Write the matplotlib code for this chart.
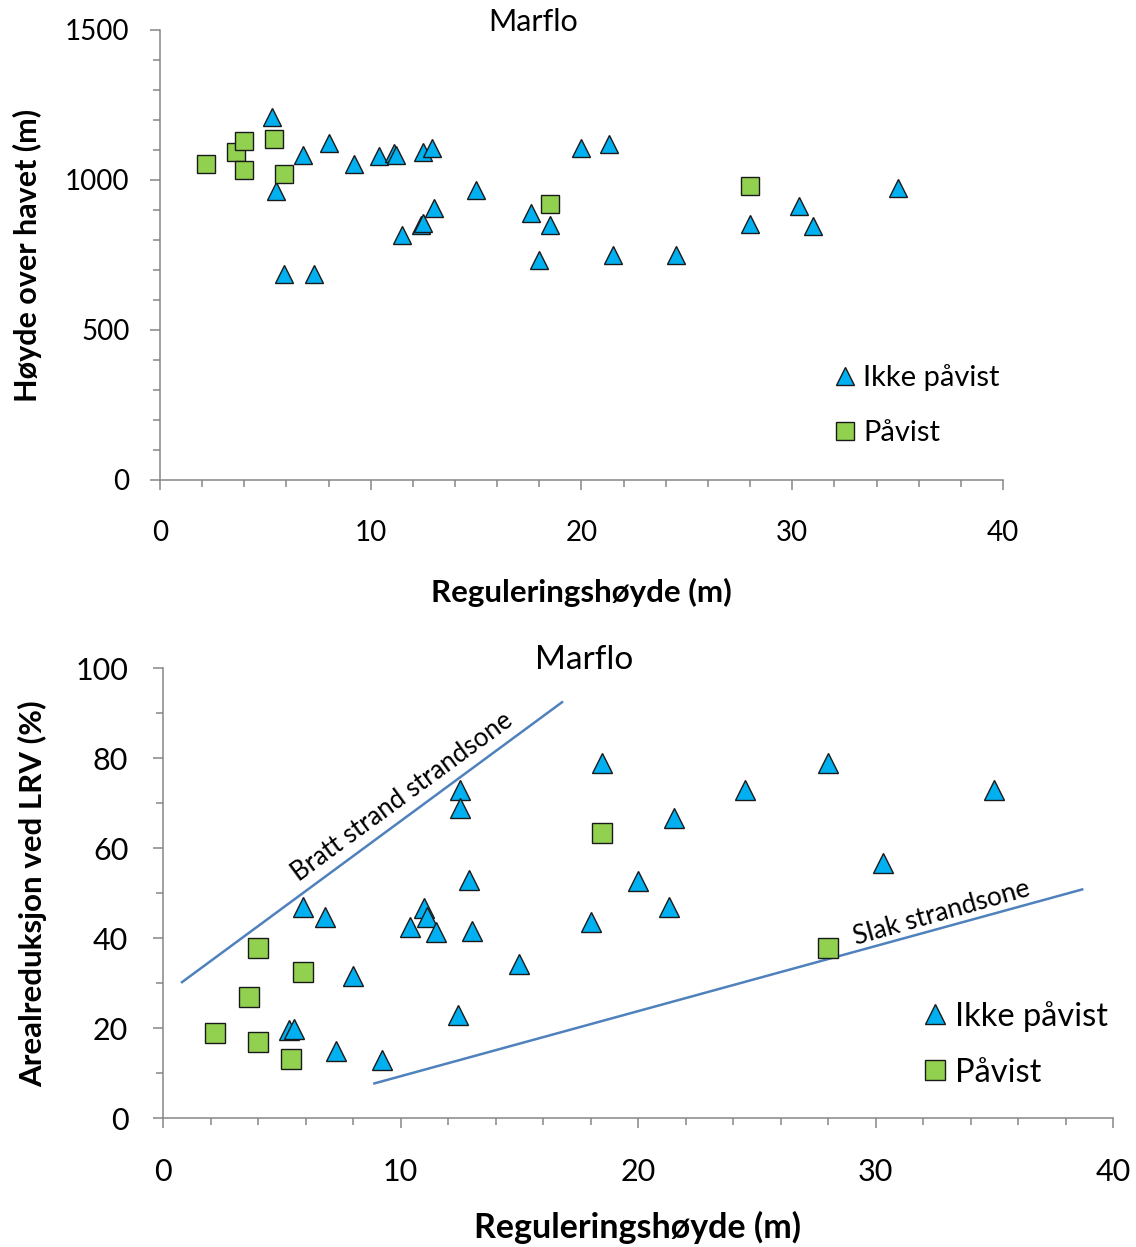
import matplotlib.pyplot as plt
from matplotlib.ticker import MultipleLocator

plt.rcParams['font.family'] = ['Lato', 'DejaVu Sans']

# Øvre figur: høyde over havet mot reguleringshøyde
ikke_x_hoh = [5.3, 6.8, 8.0, 9.2, 10.4, 11.1, 11.2, 12.5, 12.9, 5.5, 15.0, 13.0, 12.4, 12.5,
              11.5, 17.6, 18.5, 18.0, 5.9, 7.3, 20.0, 21.3, 21.5, 24.5, 28.0, 30.3, 31.0, 35.0]
ikke_y_hoh = [1209, 1083, 1122, 1053, 1080, 1089, 1083, 1094, 1106, 964, 967, 906, 851, 855,
              817, 890, 850, 733, 687, 687, 1106, 1120, 750, 750, 853, 914, 847, 972]
pav_x_hoh = [2.2, 3.6, 4.0, 4.0, 5.4, 5.9, 18.5, 28.0]
pav_y_hoh = [1053, 1093, 1131, 1033, 1136, 1021, 919, 980]

# Nedre figur: arealreduksjon ved LRV
ikke_x_areal = [12.5, 12.5, 12.9, 5.9, 6.8, 11.0, 11.1, 10.4, 11.5, 13.0, 18.0, 8.0, 15.0,
                12.4, 5.3, 5.5, 7.3, 9.2, 18.5, 28.0, 24.5, 35.0, 21.5, 30.3, 20.0, 21.3]
ikke_y_areal = [72.9, 68.8, 52.8, 46.8, 44.7, 46.6, 44.7, 42.5, 41.4, 41.6, 43.6, 31.6, 34.3,
                23.0, 19.6, 19.9, 15.0, 12.9, 79.0, 79.0, 72.9, 73.0, 66.7, 56.6, 52.7, 47.0]
pav_x_areal = [2.2, 4.0, 5.9, 3.6, 4.0, 5.4, 18.5, 28.0]
pav_y_areal = [18.8, 37.8, 32.5, 27.0, 17.0, 13.1, 63.4, 37.7]

# hjelpelinjer
bratt_x = [0.8, 16.8]
bratt_y = [30.2, 92.4]
slak_x = [8.9, 38.7]
slak_y = [7.7, 50.8]

blaa = '#00B0F0'
gronn = '#92D050'
linjefarge = '#4F81BD'
akse = '#868686'

fig = plt.figure(figsize=(11.36, 12.47), dpi=100)
ax1 = fig.add_axes([0.1408, 0.6151, 0.7421, 0.3609])
ax2 = fig.add_axes([0.1435, 0.1034, 0.8363, 0.3609])


def stil(ax, ymax, ymaj, ymin, fs, ypad):
    ax.set_xlim(0, 40)
    ax.set_ylim(0, ymax)
    ax.xaxis.set_major_locator(MultipleLocator(10))
    ax.xaxis.set_minor_locator(MultipleLocator(2))
    ax.yaxis.set_major_locator(MultipleLocator(ymaj))
    ax.yaxis.set_minor_locator(MultipleLocator(ymin))
    for s in ['top', 'right']:
        ax.spines[s].set_visible(False)
    for s in ['left', 'bottom']:
        ax.spines[s].set_color(akse)
        ax.spines[s].set_linewidth(1.1)
    ax.tick_params(which='major', direction='out', length=7, width=1.1, color=akse, labelsize=fs)
    ax.tick_params(which='minor', direction='out', length=5, width=1.1, color=akse)
    ax.tick_params(axis='y', which='major', pad=ypad)
    ax.tick_params(axis='x', which='major', pad=22)


# øvre
ax1.plot(ikke_x_hoh, ikke_y_hoh, linestyle='none', marker='^', ms=13.5, mfc=blaa,
         mec='#1a1a1a', mew=1.0, label='Ikke påvist', zorder=3)
ax1.plot(pav_x_hoh, pav_y_hoh, linestyle='none', marker='s', ms=13.5, mfc=gronn,
         mec='#1a1a1a', mew=1.0, label='Påvist', zorder=4)
stil(ax1, 1500, 500, 100, 20, 15)
ax1.text(0.4425, 1.018, 'Marflo', transform=ax1.transAxes, ha='center', va='center', fontsize=22)
ax1.set_xlabel('Reguleringshøyde (m)', fontsize=22.5, fontweight='bold', va='center')
ax1.xaxis.set_label_coords(0.4994, -0.249)
ax1.set_ylabel('Høyde over havet (m)', fontsize=22, fontweight='bold', va='center')
ax1.yaxis.set_label_coords(-0.1566, 0.5)
ax1.legend(loc='upper left', bbox_to_anchor=(0.7995, 0.257), frameon=False, fontsize=21,
           handlelength=0.75, handletextpad=0.25, labelspacing=1.0, borderpad=0, borderaxespad=0)

# nedre
ax2.plot(bratt_x, bratt_y, color=linjefarge, lw=1.8, zorder=2)
ax2.plot(slak_x, slak_y, color=linjefarge, lw=1.8, zorder=2)
ax2.plot(ikke_x_areal, ikke_y_areal, linestyle='none', marker='^', ms=14.5, mfc=blaa,
         mec='#1a1a1a', mew=1.0, label='Ikke påvist', zorder=3)
ax2.plot(pav_x_areal, pav_y_areal, linestyle='none', marker='s', ms=14, mfc=gronn,
         mec='#1a1a1a', mew=1.0, label='Påvist', zorder=4)
stil(ax2, 100, 20, 10, 22, 18)
ax2.text(0.443, 1.018, 'Marflo', transform=ax2.transAxes, ha='center', va='center', fontsize=24)
ax2.text(10.06, 71.3, 'Bratt strand strandsone', rotation=36.3, rotation_mode='anchor',
         ha='center', va='center', fontsize=18.5)
ax2.text(32.8, 45.6, 'Slak strandsone', rotation=15.8, rotation_mode='anchor',
         ha='center', va='center', fontsize=19)
ax2.set_xlabel('Reguleringshøyde (m)', fontsize=24.5, fontweight='bold', va='center')
ax2.xaxis.set_label_coords(0.499, -0.244)
ax2.set_ylabel('Arealreduksjon ved LRV (%)', fontsize=22.5, fontweight='bold', va='center')
ax2.yaxis.set_label_coords(-0.1368, 0.498)
ax2.legend(loc='upper left', bbox_to_anchor=(0.801, 0.261), frameon=False, fontsize=23.5,
           handlelength=0.7, handletextpad=0.25, labelspacing=0.8, borderpad=0, borderaxespad=0)

plt.savefig('out.png', dpi=100)
